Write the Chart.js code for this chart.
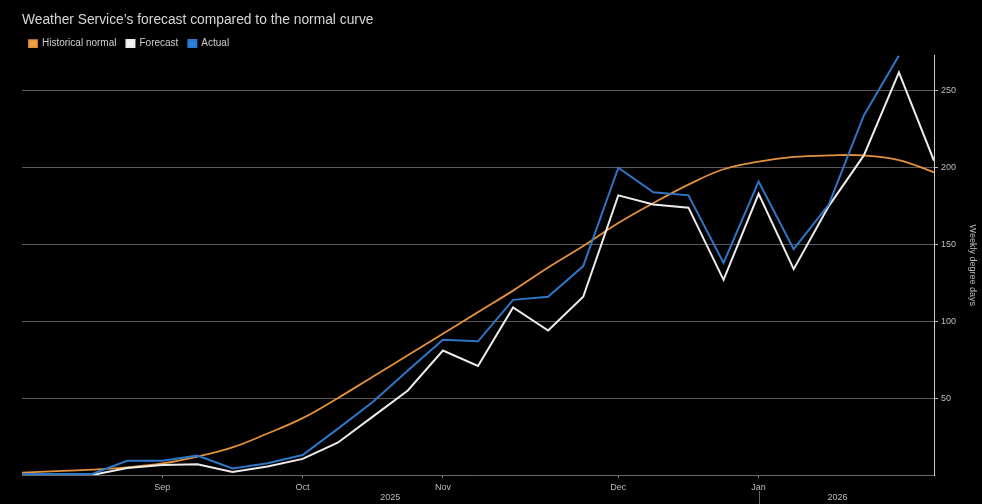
<!DOCTYPE html>
<html>
<head>
<meta charset="utf-8">
<script src="https://cdn.jsdelivr.net/npm/chart.js@4.4.1/dist/chart.umd.min.js"></script>
<style>
  html, body { margin: 0; padding: 0; background: #000; }
  #wrap { width: 982px; height: 504px; position: relative; }
</style>
</head>
<body>
<div id="wrap"><canvas id="degreeDaysChart"></canvas></div>
<script>
// ## WEEKLY DEGREE DAYS ##

// one value per week, index 0 = first week shown (late Aug 2025)
const normalValues = [1.5, 2.5, 3.5, 5, 7.5, 12, 18, 27, 37, 50, 64, 78, 92, 106, 120, 135, 149, 164, 177, 189, 199, 204, 207, 208, 208, 205, 197];
const forecastValues = [0, 0, 0, 4.5, 6.5, 7, 2, 5.5, 10.5, 21, 38, 55, 81, 71, 109, 94, 116, 182, 176, 174, 127, 183, 134, 175, 208, 262, 204.5];
const actualValues = [0.7, 0.7, 0.7, 9.3, 9.3, 12.6, 4.3, 7.6, 13, 30, 47.5, 68, 88, 87, 114, 116, 136, 200, 184, 182, 138, 191, 147, 176, 234, 273, null];

const monthLabels = ["Sep", "Oct", "Nov", "Dec", "Jan"];
const monthWeekIdx = [4, 8, 12, 17, 21];
const yTicks = [50, 100, 150, 200, 250];
const yearLabels = ["2025", "2026"];
const yearSpans = [[0, 21], [21, 25.5]];

const toPoints = (values) => values.map((v, i) => ({ x: i, y: v }));

const fontFamily = "'Liberation Sans', Arial, sans-serif";
const labelFont = { family: fontFamily, size: 9 };

// legend keeps wide item spacing but a short box, nudged left
const legendHeightPlugin = {
  id: "legendHeight",
  afterInit(chart) {
    const legend = chart.legend;
    const origFit = legend.fit;
    legend.fit = function () {
      origFit.call(this);
      this.height = 27;
    };
  },
  afterLayout(chart) {
    chart.legend.left -= 3;
  },
};

// year row under the month labels + divider at the new year
const yearRowPlugin = {
  id: "yearRow",
  afterDraw(chart) {
    const { ctx } = chart;
    const xs = chart.scales.x;
    ctx.save();
    ctx.fillStyle = "#bdbdbd";
    ctx.font = "9px " + fontFamily;
    ctx.textAlign = "center";
    ctx.textBaseline = "middle";
    yearLabels.forEach((label, i) => {
      const [a, b] = yearSpans[i];
      const px = (xs.getPixelForValue(a) + xs.getPixelForValue(b)) / 2;
      ctx.fillText(label, px, 498);
    });
    const divX = Math.round(xs.getPixelForValue(yearSpans[1][0])) + 0.5;
    ctx.strokeStyle = "#666";
    ctx.lineWidth = 1;
    ctx.beginPath();
    ctx.moveTo(divX, 491);
    ctx.lineTo(divX, 504);
    ctx.stroke();
    ctx.restore();
  },
};

const ctx = document.getElementById("degreeDaysChart").getContext("2d");

window.degreeDaysChart = new Chart(ctx, {
  type: "line",
  data: {
    datasets: [
      {
        label: "Historical normal",
        data: toPoints(normalValues),
        borderColor: "#e3913c",
        backgroundColor: "#eea445",
        borderWidth: 1.8,
        tension: 0.4,
        pointRadius: 0,
        fill: false,
        order: 3,
      },
      {
        label: "Forecast",
        data: toPoints(forecastValues),
        borderColor: "#ececec",
        backgroundColor: "#f4f4f4",
        borderWidth: 2,
        tension: 0,
        pointRadius: 0,
        fill: false,
        order: 2,
      },
      {
        label: "Actual",
        data: toPoints(actualValues),
        borderColor: "#2d76c8",
        backgroundColor: "#2b80e0",
        borderWidth: 2,
        tension: 0,
        pointRadius: 0,
        fill: false,
        order: 1,
      },
    ],
  },
  options: {
    responsive: true,
    maintainAspectRatio: false,
    animation: false,
    layout: {
      padding: { left: 22, top: 0, right: 0, bottom: 0 },
    },
    plugins: {
      title: {
        display: true,
        text: "Weather Service\u2019s forecast compared to the normal curve",
        align: "start",
        color: "#d6d6d6",
        font: { family: fontFamily, size: 13.8, weight: "normal" },
        padding: { top: 12, bottom: 0 },
      },
      legend: {
        display: true,
        align: "start",
        labels: {
          color: "#cfcfcf",
          font: { family: fontFamily, size: 10 },
          boxWidth: 8,
          boxHeight: 7,
          padding: 10,
          sort: (a, b) => a.datasetIndex - b.datasetIndex,
        },
      },
      tooltip: { enabled: false },
    },
    scales: {
      x: {
        type: "linear",
        min: 0,
        max: normalValues.length - 1,
        afterBuildTicks: (scale) => {
          scale.ticks = monthWeekIdx.map((v) => ({ value: v }));
        },
        afterFit: (scale) => {
          scale.height = 29;
        },
        ticks: {
          color: "#bdbdbd",
          font: labelFont,
          padding: 4,
          maxRotation: 0,
          autoSkip: false,
          callback: (value) => monthLabels[monthWeekIdx.indexOf(value)],
        },
        grid: {
          drawOnChartArea: false,
          drawTicks: true,
          tickLength: 3,
          tickColor: "#888",
        },
        border: { display: true, color: "#6a6a6a", width: 1 },
      },
      y: {
        position: "right",
        min: 0,
        max: 273,
        afterBuildTicks: (scale) => {
          scale.ticks = yTicks.map((v) => ({ value: v }));
        },
        afterFit: (scale) => {
          scale.width = 48;
        },
        ticks: {
          color: "#bdbdbd",
          font: labelFont,
          padding: 3,
        },
        grid: {
          color: "#5a5a5a",
          lineWidth: 1,
          tickLength: 4,
          tickColor: "#bdbdbd",
        },
        border: { display: true, color: "#d0d0d0", width: 1 },
        title: {
          display: true,
          text: "Weekly degree days",
          color: "#bdbdbd",
          font: labelFont,
          padding: { top: 4, bottom: 4 },
        },
      },
    },
  },
  plugins: [legendHeightPlugin, yearRowPlugin],
});
</script>
</body>
</html>
